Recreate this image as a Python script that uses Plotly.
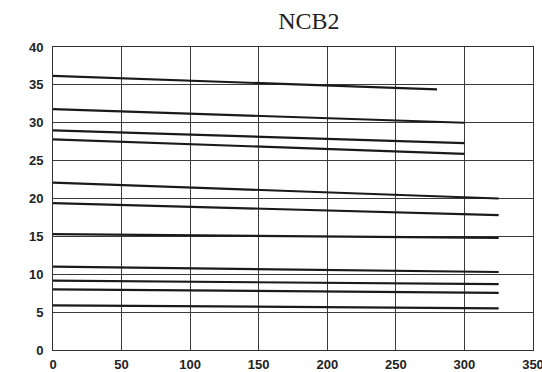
import plotly.graph_objects as go

# each curve: start/end x and start/end y
x_ends = [280, 300, 300, 300, 325, 325, 325, 325, 325, 325, 325]
y_start = [36.2, 31.8, 29.0, 27.8, 22.1, 19.4, 15.3, 11.0, 9.15, 8.0, 5.9]
y_end = [34.4, 30.0, 27.3, 25.9, 20.0, 17.8, 14.8, 10.3, 8.7, 7.55, 5.5]

x_ticks = [0, 50, 100, 150, 200, 250, 300, 350]
y_ticks = [0, 5, 10, 15, 20, 25, 30, 35, 40]

fig = go.Figure()

for xe, y0, y1 in zip(x_ends, y_start, y_end):
    fig.add_trace(
        go.Scatter(
            x=[0, xe],
            y=[y0, y1],
            mode="lines",
            line=dict(color="#1a1a1a", width=2.2),
            showlegend=False,
            hoverinfo="skip",
        )
    )

axis_style = dict(
    showgrid=True,
    gridcolor="#3a3a3a",
    gridwidth=1,
    showline=True,
    linecolor="#333333",
    linewidth=1,
    mirror=True,
    zeroline=False,
    ticks="",
    automargin=False,
    ticklabeloverflow="allow",
    tickfont=dict(family="Liberation Sans", size=13, color="#222222", weight="bold"),
)

fig.update_xaxes(range=[0, 350], tickvals=x_ticks, ticklabelstandoff=2, **axis_style)
fig.update_yaxes(range=[0, 40], tickvals=y_ticks, ticklabelstandoff=6, **axis_style)

fig.update_layout(
    width=542,
    height=372,
    margin=dict(l=53, r=9, t=47, b=22),
    plot_bgcolor="white",
    paper_bgcolor="white",
    title=dict(
        text="NCB2",
        x=0.57,
        xanchor="center",
        y=0.945,
        yanchor="middle",
        font=dict(family="Liberation Serif", size=24, color="#222222"),
    ),
)

# the page body has a default 8px margin; drop it so the figure fills the window
fig.write_html(
    "out.html",
    config={"displayModeBar": False},
    post_script="document.body.style.margin = '0px';",
)
